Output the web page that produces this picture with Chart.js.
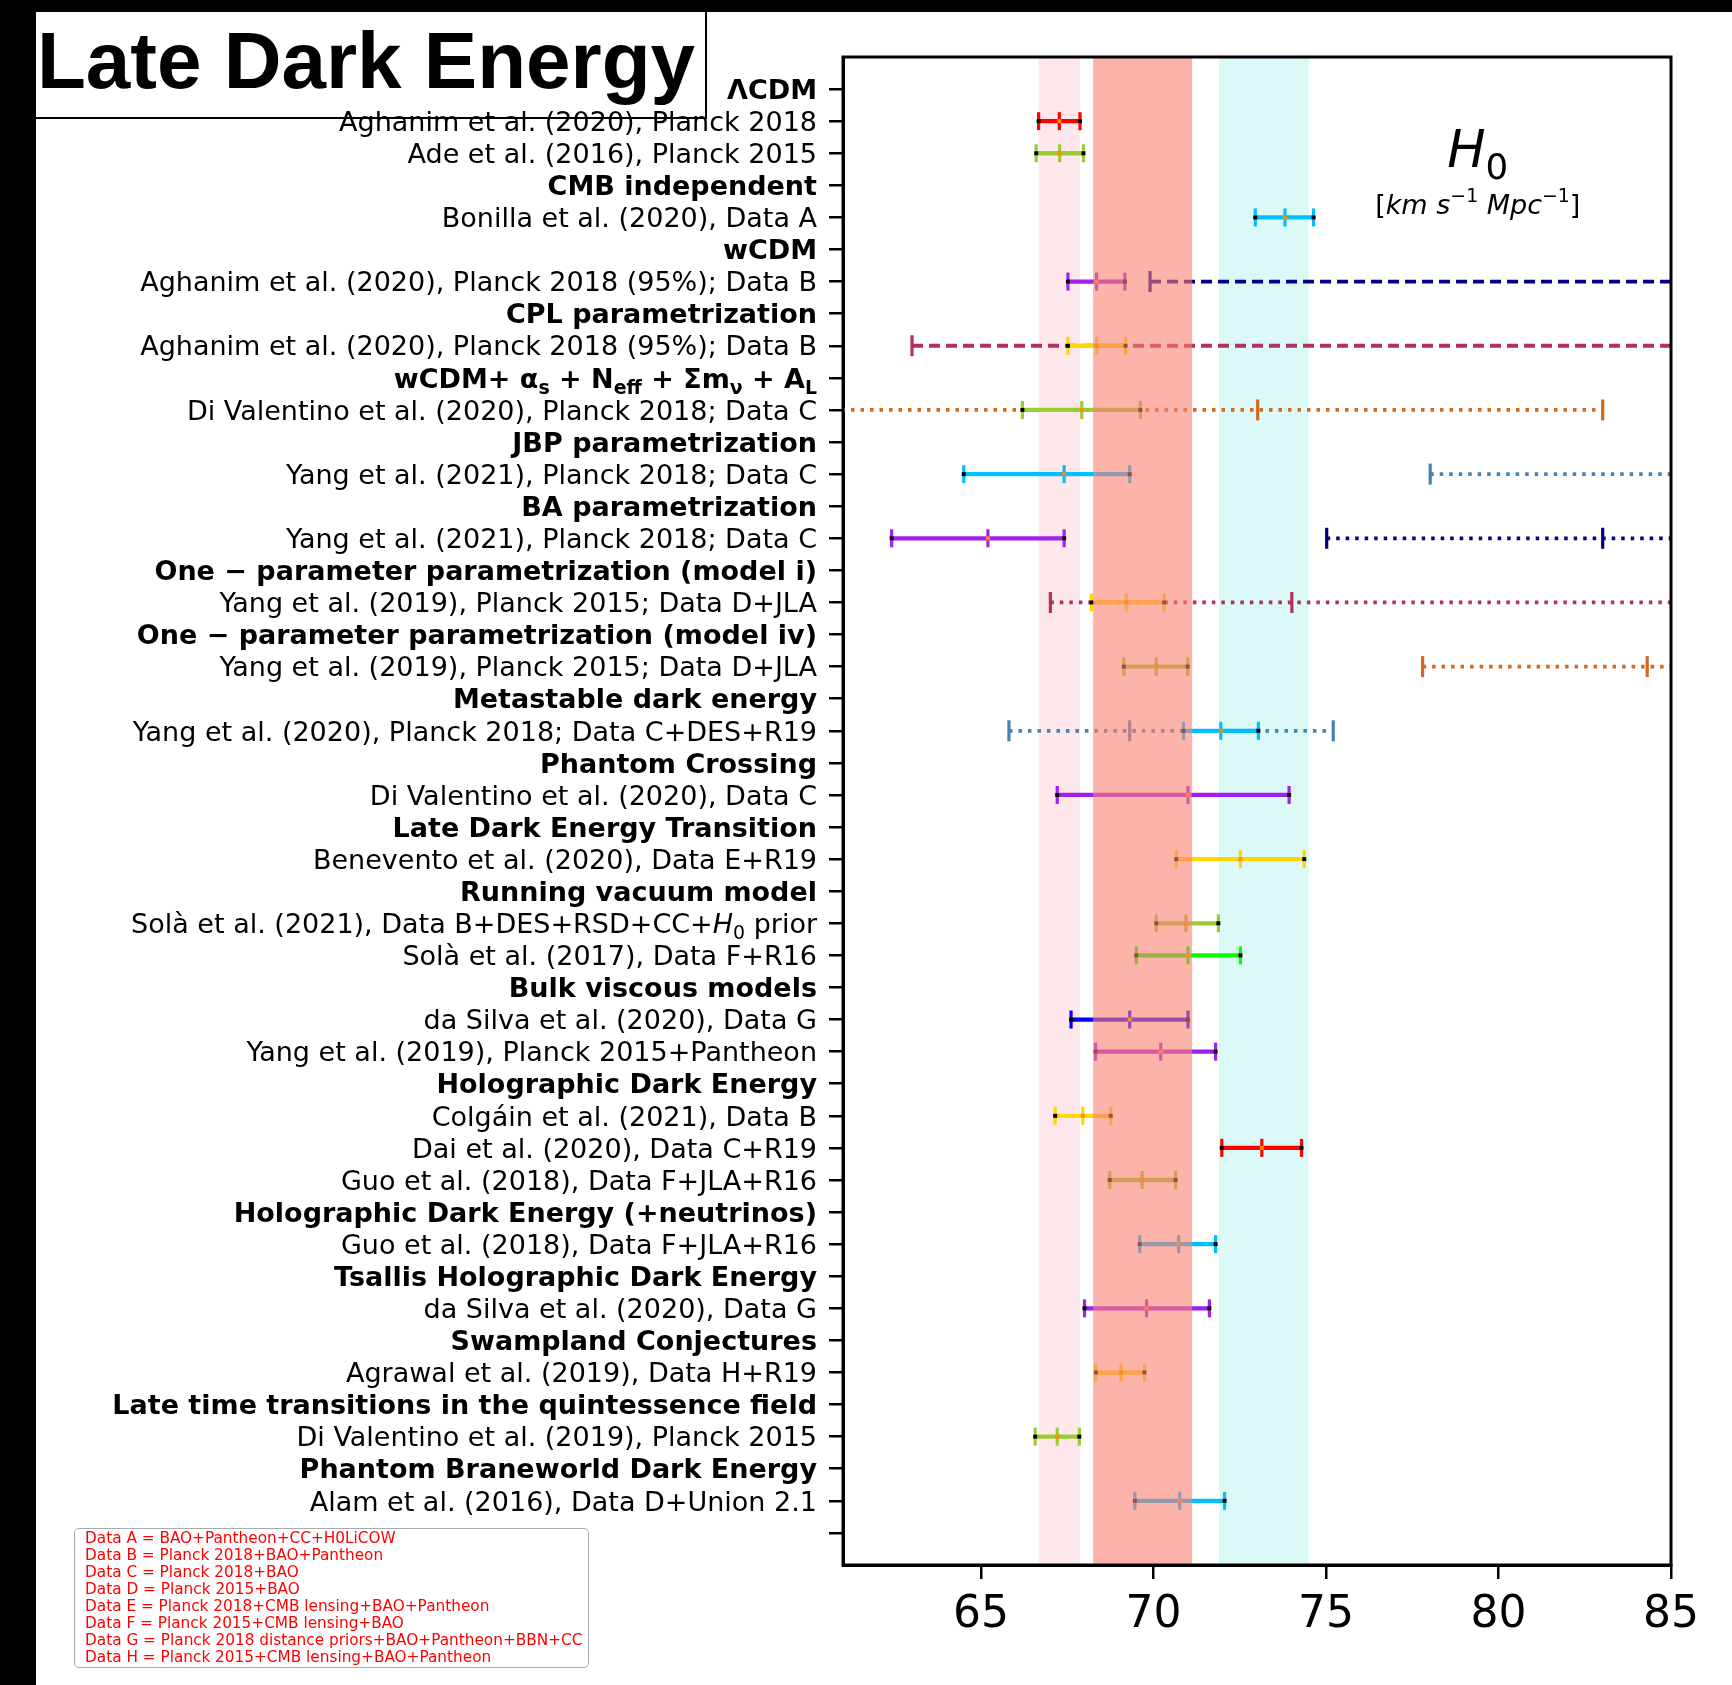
<!DOCTYPE html>
<html>
<head>
<meta charset="utf-8">
<title>Late Dark Energy - H0</title>
<script src="https://cdn.jsdelivr.net/npm/chart.js@4.4.1/dist/chart.umd.min.js"></script>
<style>
  body { margin: 0; width: 1732px; height: 1685px; position: relative; overflow: hidden; background: #fff; }
  .strip { position: absolute; background: #000; }
  #titleBox { position: absolute; left: 36px; top: 12px; width: 669px; height: 105px; background: #fff;
    border-right: 2px solid #000; border-bottom: 2px solid #000; z-index: 0; }
  #titleText { position: absolute; left: 1px; top: 9px; font: bold 80px "Liberation Sans", Arial, sans-serif;
    line-height: 80px; white-space: nowrap; color: #000; }
  #chart { position: absolute; left: 0; top: 0; z-index: 1; }
  #dataNotes { position: absolute; left: 74px; top: 1528px; width: 515px; height: 140px; box-sizing: border-box;
    border: 1.5px solid #aaa; border-radius: 5px; background: #fff; padding: 1px 0 0 10px;
    font: 15.3px "DejaVu Sans", sans-serif; line-height: 17px; color: #ff0000; z-index: 2; white-space: nowrap; }
</style>
</head>
<body>
<div class="strip" style="left:0;top:0;width:36px;height:1685px"></div>
<div class="strip" style="left:0;top:0;width:1732px;height:12px"></div>
<div id="titleBox"><div id="titleText">Late Dark Energy</div></div>
<canvas id="chart" width="1732" height="1685"></canvas>
<div id="dataNotes"></div>

<script>
// Axis range and ticks
const xMin = 61;
const xMax = 85;
const xTickValues = [65, 70, 75, 80, 85];

// Row labels, top to bottom (markup: _{sub}, ^{sup}, $italic$)
const rowLabels = [
  'ΛCDM',
  'Aghanim et al. (2020), Planck 2018',
  'Ade et al. (2016), Planck 2015',
  'CMB independent',
  'Bonilla et al. (2020), Data A',
  'wCDM',
  'Aghanim et al. (2020), Planck 2018 (95%); Data B',
  'CPL parametrization',
  'Aghanim et al. (2020), Planck 2018 (95%); Data B',
  'wCDM+ α_{s} + N_{eff} + Σm_{ν} + A_{L}',
  'Di Valentino et al. (2020), Planck 2018; Data C',
  'JBP parametrization',
  'Yang et al. (2021), Planck 2018; Data C',
  'BA parametrization',
  'Yang et al. (2021), Planck 2018; Data C',
  'One − parameter parametrization (model i)',
  'Yang et al. (2019), Planck 2015; Data D+JLA',
  'One − parameter parametrization (model iv)',
  'Yang et al. (2019), Planck 2015; Data D+JLA',
  'Metastable dark energy',
  'Yang et al. (2020), Planck 2018; Data C+DES+R19',
  'Phantom Crossing',
  'Di Valentino et al. (2020), Data C',
  'Late Dark Energy Transition',
  'Benevento et al. (2020), Data E+R19',
  'Running vacuum model',
  'Solà et al. (2021), Data B+DES+RSD+CC+$H$_{0} prior',
  'Solà et al. (2017), Data F+R16',
  'Bulk viscous models',
  'da Silva et al. (2020), Data G',
  'Yang et al. (2019), Planck 2015+Pantheon',
  'Holographic Dark Energy',
  'Colgáin et al. (2021), Data B',
  'Dai et al. (2020), Data C+R19',
  'Guo et al. (2018), Data F+JLA+R16',
  'Holographic Dark Energy (+neutrinos)',
  'Guo et al. (2018), Data F+JLA+R16',
  'Tsallis Holographic Dark Energy',
  'da Silva et al. (2020), Data G',
  'Swampland Conjectures',
  'Agrawal et al. (2019), Data H+R19',
  'Late time transitions in the quintessence field',
  'Di Valentino et al. (2019), Planck 2015',
  'Phantom Braneworld Dark Energy',
  'Alam et al. (2016), Data D+Union 2.1',
  ''
];
const headerRows = [0, 3, 5, 7, 9, 11, 13, 15, 17, 19, 21, 23, 25, 28, 31, 35, 37, 39, 41, 43];

// Solid error bars: row, lower, central, upper, colour
const barRow = [1, 2, 4, 6, 8, 10, 12, 14, 16, 18, 20, 22, 24, 26, 27, 29, 30, 32, 33, 34, 36, 38, 40, 42, 44];
const barLow = [66.67, 66.60, 72.95, 67.52, 67.52, 66.20, 64.50, 62.41, 68.20, 69.14, 70.87, 67.21, 70.66,
  70.08, 69.50, 67.61, 68.32, 67.15, 71.98, 68.73, 69.60, 68.00, 68.33, 66.57, 69.46];
const barMid = [67.27, 67.28, 73.81, 68.35, 68.35, 67.92, 67.41, 65.20, 69.21, 70.08, 71.95, 71.00, 72.52,
  70.94, 71.00, 69.31, 70.21, 67.95, 73.14, 69.67, 70.73, 69.80, 69.06, 67.21, 70.76];
const barHigh = [67.87, 67.97, 74.64, 69.17, 69.19, 69.62, 69.31, 67.41, 70.31, 70.99, 73.04, 73.93, 74.37,
  71.88, 72.52, 71.00, 71.80, 68.76, 74.29, 70.64, 71.80, 71.62, 69.74, 67.85, 72.06];
const barColor = ['#ff0000', '#9acd32', '#00bfff', '#a020f0', '#ffd700', '#9acd32', '#00bfff', '#a020f0',
  '#ffd700', '#9acd32', '#00bfff', '#a020f0', '#ffd700', '#9acd32', '#00ff00', '#0000ff', '#a020f0',
  '#ffd700', '#ff0000', '#9acd32', '#00bfff', '#a020f0', '#ffd700', '#9acd32', '#00bfff'];

// Wide (dashed / dotted) constraints; null = beyond the plotted range
const wideRow = [6, 8, 10, 12, 14, 16, 18, 20];
const wideLow = [69.90, 63.00, null, 78.02, 75.02, 67.01, 77.80, 65.81];
const wideMid = [null, null, 73.02, null, 83.02, 74.01, 84.31, 69.31];
const wideHigh = [null, null, 83.02, null, null, null, null, 75.21];
const wideStyle = ['dash', 'dash', 'dot', 'dot', 'dot', 'dot', 'dot', 'dot'];
const wideColor = ['#000080', '#b03060', '#d2691e', '#4682b4', '#000080', '#b03060', '#d2691e', '#4682b4'];

// Shaded reference bands; the salmon one is laid over the bars
const bandLow = [66.67, 68.25, 71.90];
const bandHigh = [67.87, 71.12, 74.50];
const bandColor = ['rgba(255,192,203,0.36)', 'rgba(250,128,114,0.6)', 'rgba(64,224,208,0.19)'];
const bandOnTop = [false, true, false];

// Data set key
const dataNotes = [
  'Data A = BAO+Pantheon+CC+H0LiCOW',
  'Data B = Planck 2018+BAO+Pantheon',
  'Data C = Planck 2018+BAO',
  'Data D = Planck 2015+BAO',
  'Data E = Planck 2018+CMB lensing+BAO+Pantheon',
  'Data F = Planck 2015+CMB lensing+BAO',
  'Data G = Planck 2018 distance priors+BAO+Pantheon+BBN+CC',
  'Data H = Planck 2015+CMB lensing+BAO+Pantheon'
];

document.getElementById('dataNotes').innerHTML = dataNotes.map(t => `<div>${t}</div>`).join('');

// Rich text helpers
function parseRich(str) {
  const segs = [];
  let buf = '';
  let italic = false;
  let i = 0;
  const flush = () => { if (buf) { segs.push({ t: buf, italic, shift: 0 }); buf = ''; } };
  while (i < str.length) {
    const ch = str[i];
    if ((ch === '_' || ch === '^') && str[i + 1] === '{') {
      flush();
      const end = str.indexOf('}', i);
      segs.push({ t: str.slice(i + 2, end), italic: false, shift: ch === '_' ? 1 : -1 });
      i = end + 1;
      continue;
    }
    if (ch === '$') { flush(); italic = !italic; i++; continue; }
    buf += ch;
    i++;
  }
  flush();
  return segs;
}

function segFont(s, size, weight) {
  const sz = s.shift ? size * 0.7 : size;
  return `${s.italic ? 'italic ' : ''}${weight} ${sz}px "DejaVu Sans"`;
}

function drawRich(ctx, text, x, yBase, size, weight, align) {
  const segs = parseRich(text);
  let total = 0;
  segs.forEach(s => { ctx.font = segFont(s, size, weight); s.w = ctx.measureText(s.t).width; total += s.w; });
  let cx = align === 'right' ? x - total : align === 'center' ? x - total / 2 : x;
  ctx.textAlign = 'left';
  ctx.textBaseline = 'alphabetic';
  segs.forEach(s => {
    ctx.font = segFont(s, size, weight);
    const dy = s.shift === 1 ? size * 0.24 : s.shift === -1 ? -size * 0.42 : 0;
    ctx.fillText(s.t, cx, yBase + dy);
    cx += s.w;
  });
}

// Build datasets
const datasets = [];

datasets.push({
  data: barRow.flatMap((r, i) => [{ x: barLow[i], y: r }, { x: barHigh[i], y: r }]),
  showLine: false, pointStyle: 'rect', pointRadius: 2.8, pointBackgroundColor: '#000',
  pointBorderWidth: 0, order: 0
});
datasets.push({
  data: barRow.map((r, i) => ({ x: barMid[i], y: r })),
  showLine: false, pointStyle: 'rect', pointRadius: 2.8, pointBackgroundColor: '#ff8c00',
  pointBorderWidth: 0, order: 0
});

barRow.forEach((r, i) => {
  datasets.push({
    data: [{ x: barLow[i], y: r }, { x: barMid[i], y: r }, { x: barHigh[i], y: r }],
    borderColor: barColor[i], borderWidth: 4.3, borderCapStyle: 'butt',
    pointStyle: 'line', pointRotation: 90, pointRadius: 9, pointBorderWidth: 3.2,
    pointBorderColor: barColor[i], clip: 0, order: 1
  });
});

wideRow.forEach((r, i) => {
  const pts = [];
  const radii = [];
  pts.push({ x: wideLow[i] === null ? xMin - 5 : wideLow[i], y: r });
  radii.push(wideLow[i] === null ? 0 : 10.5);
  if (wideMid[i] !== null) { pts.push({ x: wideMid[i], y: r }); radii.push(10.5); }
  pts.push({ x: wideHigh[i] === null ? xMax + 5 : wideHigh[i], y: r });
  radii.push(wideHigh[i] === null ? 0 : 10.5);
  datasets.push({
    data: pts,
    borderColor: wideColor[i], borderWidth: 3.8, borderCapStyle: 'butt',
    borderDash: wideStyle[i] === 'dash' ? [11, 6] : [3.5, 6],
    pointStyle: 'line', pointRotation: 90, pointRadius: radii, pointBorderWidth: 3.2,
    pointBorderColor: wideColor[i], clip: 0, order: 2
  });
});

// Plugins
function drawBands(chart, onTop) {
  const { ctx, chartArea, scales } = chart;
  ctx.save();
  bandLow.forEach((lo, i) => {
    if (bandOnTop[i] !== onTop) return;
    const x0 = scales.x.getPixelForValue(lo);
    const x1 = scales.x.getPixelForValue(bandHigh[i]);
    ctx.fillStyle = bandColor[i];
    ctx.fillRect(x0, chartArea.top, x1 - x0, chartArea.bottom - chartArea.top);
  });
  ctx.restore();
}

const bandPlugin = {
  id: 'bands',
  beforeDatasetsDraw(chart) { drawBands(chart, false); },
  afterDatasetsDraw(chart) { drawBands(chart, true); }
};

const labelPlugin = {
  id: 'rowLabels',
  afterDraw(chart) {
    const { ctx, chartArea, scales } = chart;
    const size = 27;
    const xRight = scales.y.right - 14 - 12;
    ctx.save();
    ctx.fillStyle = '#000';
    rowLabels.forEach((text, i) => {
      if (!text) return;
      const y = scales.y.getPixelForValue(i);
      const weight = headerRows.includes(i) ? 'bold' : 'normal';
      drawRich(ctx, text, xRight, y + size * 0.36, size, weight, 'right');
    });
    // H0 annotation
    const hx = scales.x.getPixelForValue(79.4);
    drawRich(ctx, '$H$_{0}', hx, scales.y.getPixelForValue(1.9) + 17, 51, 'normal', 'center');
    drawRich(ctx, '[$km$ $s$^{−1} $Mpc$^{−1}]', hx, scales.y.getPixelForValue(3.6) + 9, 27, 'normal', 'center');
    // frame
    ctx.strokeStyle = '#000';
    ctx.lineWidth = 3;
    ctx.strokeRect(chartArea.left, chartArea.top, chartArea.right - chartArea.left, chartArea.bottom - chartArea.top);
    ctx.restore();
  }
};

new Chart(document.getElementById('chart'), {
  type: 'line',
  data: { datasets },
  options: {
    responsive: false,
    animation: false,
    devicePixelRatio: 1,
    layout: { padding: { top: 57, right: 61, left: 0, bottom: 0 } },
    plugins: { legend: { display: false }, tooltip: { enabled: false } },
    elements: { line: { tension: 0 } },
    scales: {
      x: {
        type: 'linear',
        min: xMin,
        max: xMax,
        afterBuildTicks: scale => { scale.ticks = xTickValues.map(v => ({ value: v })); },
        afterFit: scale => { scale.height = 120; },
        grid: { drawOnChartArea: false, tickLength: 14, color: '#000', lineWidth: 2.5 },
        border: { color: '#000', width: 3 },
        ticks: { color: '#000', padding: 10, font: { family: 'DejaVu Sans', size: 44 }, autoSkip: false, maxRotation: 0 }
      },
      y: {
        type: 'linear',
        reverse: true,
        min: -1,
        max: 46,
        afterBuildTicks: scale => { scale.ticks = rowLabels.map((_, i) => ({ value: i })); },
        afterFit: scale => { scale.width = 843; },
        grid: { drawOnChartArea: false, tickLength: 14, color: '#000', lineWidth: 2.5 },
        border: { color: '#000', width: 3 },
        ticks: { display: false, autoSkip: false }
      }
    }
  },
  plugins: [bandPlugin, labelPlugin]
});
</script>
</body>
</html>
